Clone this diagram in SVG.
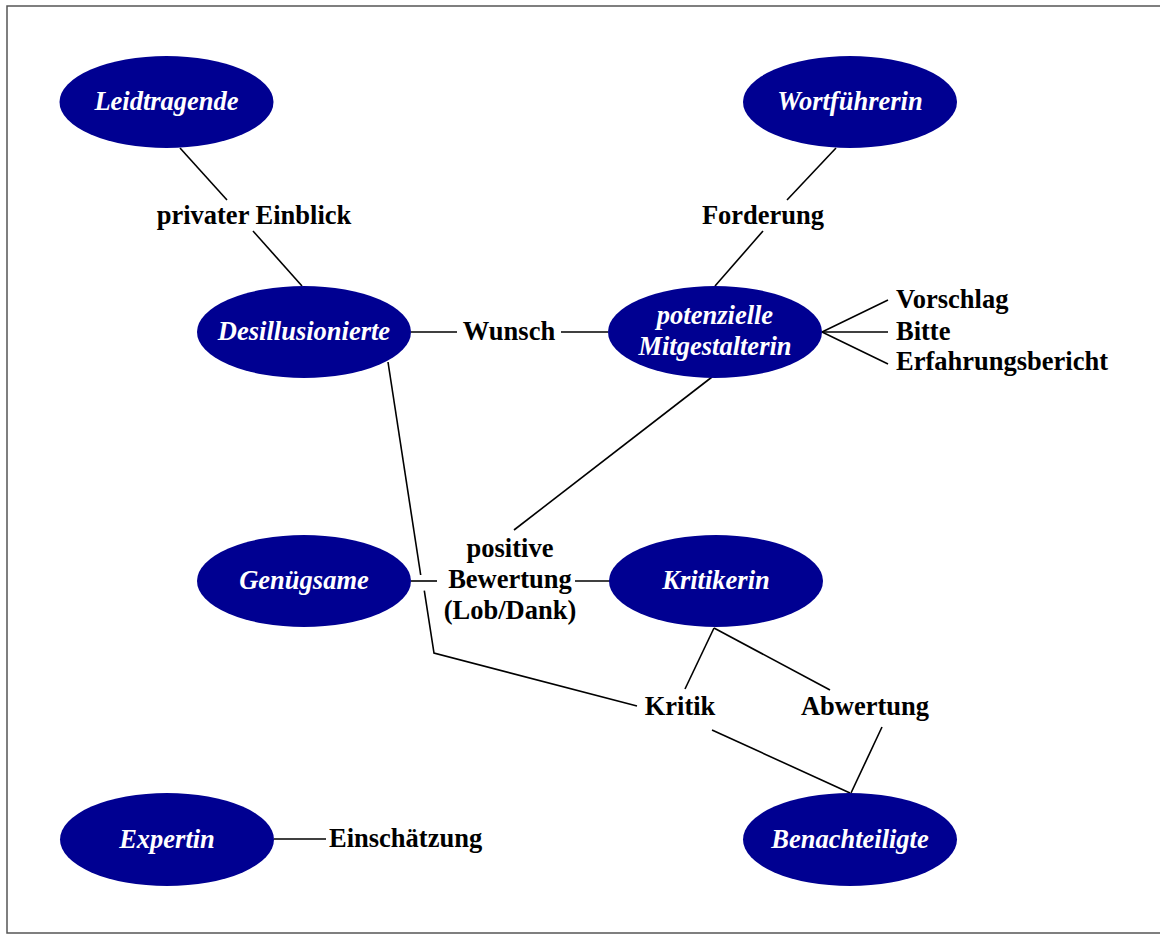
<svg xmlns="http://www.w3.org/2000/svg" width="1160" height="935" viewBox="0 0 1160 935">
<style>
.n ellipse{fill:#000091;}
.n text{fill:#fff;font-family:"Liberation Serif","Times New Roman",serif;font-size:26.5px;font-weight:bold;font-style:italic;text-anchor:middle;}
.lbl{fill:#000;font-family:"Liberation Serif","Times New Roman",serif;font-size:26.5px;font-weight:bold;}
.c line,.c polyline{stroke:#000;stroke-width:1.6;fill:none;}
</style>
<rect x="7" y="6" width="1160" height="927" fill="#fff" stroke="#555" stroke-width="1.5"/>
<g class="c" id="connectors">
<line x1="180" y1="148" x2="227" y2="200"/>
<line x1="253" y1="231" x2="302" y2="286"/>
<line x1="836" y1="148" x2="787" y2="200"/>
<line x1="763" y1="231" x2="715" y2="286"/>
<line x1="411" y1="332" x2="457" y2="332"/>
<line x1="561" y1="332" x2="608" y2="332"/>
<line x1="822" y1="332" x2="888" y2="300"/>
<line x1="822" y1="332" x2="888" y2="332"/>
<line x1="822" y1="332" x2="888" y2="364"/>
<line x1="712" y1="377" x2="514" y2="530"/>
<polyline points="388,362 420.7,575"/>
<polyline points="424.3,590.7 434,653 637,706"/>
<line x1="411" y1="581" x2="437" y2="581"/>
<line x1="575" y1="581" x2="610" y2="581"/>
<line x1="714" y1="628" x2="685" y2="689"/>
<line x1="714" y1="628" x2="830" y2="690"/>
<line x1="712" y1="730" x2="850" y2="793"/>
<line x1="882" y1="727" x2="851" y2="793"/>
<line x1="274" y1="839" x2="326" y2="839"/>
</g>
<g class="n" id="leidtragende"><ellipse cx="166.5" cy="102" rx="107" ry="46"/><text x="166.5" y="110">Leidtragende</text></g>
<g class="n" id="wortfuehrerin"><ellipse cx="850" cy="102" rx="107" ry="46"/><text x="850" y="110">Wortführerin</text></g>
<g class="n" id="desillusionierte"><ellipse cx="304" cy="332" rx="107" ry="46"/><text x="304" y="340">Desillusionierte</text></g>
<g class="n" id="mitgestalterin"><ellipse cx="715" cy="332" rx="107" ry="46"/><text x="715" y="324">potenzielle</text><text x="715" y="355">Mitgestalterin</text></g>
<g class="n" id="genuegsame"><ellipse cx="304" cy="581" rx="107" ry="46"/><text x="304" y="589">Genügsame</text></g>
<g class="n" id="kritikerin"><ellipse cx="716" cy="581" rx="107" ry="46"/><text x="716" y="589">Kritikerin</text></g>
<g class="n" id="expertin"><ellipse cx="167" cy="839.5" rx="107" ry="46.5"/><text x="167" y="848">Expertin</text></g>
<g class="n" id="benachteiligte"><ellipse cx="850" cy="839.5" rx="107" ry="46.5"/><text x="850" y="848">Benachteiligte</text></g>
<g id="labels">
<text class="lbl" x="254" y="224" text-anchor="middle">privater Einblick</text>
<text class="lbl" x="763" y="224" text-anchor="middle">Forderung</text>
<text class="lbl" x="509" y="340" text-anchor="middle">Wunsch</text>
<text class="lbl" x="896" y="308">Vorschlag</text>
<text class="lbl" x="896" y="340">Bitte</text>
<text class="lbl" x="896" y="370">Erfahrungsbericht</text>
<text class="lbl" x="510" y="557" text-anchor="middle">positive</text>
<text class="lbl" x="510" y="588" text-anchor="middle">Bewertung</text>
<text class="lbl" x="510" y="619" text-anchor="middle">(Lob/Dank)</text>
<text class="lbl" x="680" y="715" text-anchor="middle">Kritik</text>
<text class="lbl" x="865" y="715" text-anchor="middle">Abwertung</text>
<text class="lbl" x="329" y="847">Einschätzung</text>
</g>
</svg>
